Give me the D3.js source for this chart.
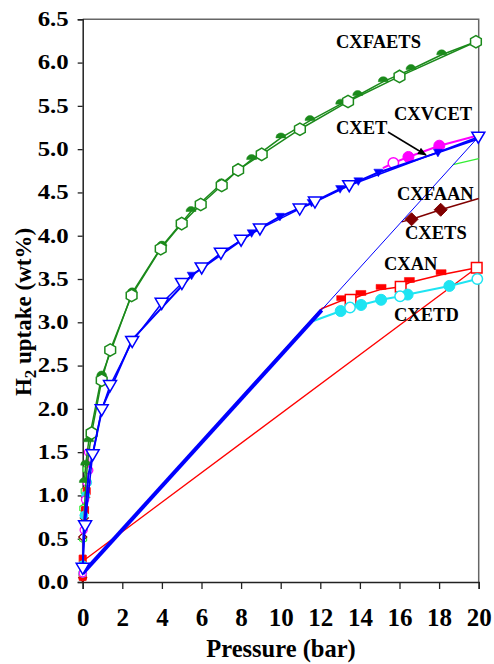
<!DOCTYPE html>
<html>
<head>
<meta charset="utf-8">
<script src="https://cdn.jsdelivr.net/npm/d3@7"></script>
<style>
  body { margin: 0; background: #fff; }
  svg text { font-family: "Liberation Serif", "Times New Roman", serif; font-weight: bold; }
</style>
</head>
<body>
<div id="chart"></div>
<script>
// axis ticks
var xTicks = [0, 2, 4, 6, 8, 10, 12, 14, 16, 18, 20];
var yTicks = [0, 0.5, 1, 1.5, 2, 2.5, 3, 3.5, 4, 4.5, 5, 5.5, 6, 6.5];

// CXFAETS (green) - open hexagons / filled desorption
var faetsAds = [[0, 0.08], [0.05, 0.55], [0.12, 1.0], [0.25, 1.4], [0.45, 1.72], [0.96, 2.33], [1.39, 2.68], [2.47, 3.31], [3.94, 3.85], [5.0, 4.14], [5.96, 4.36], [7.02, 4.58], [7.85, 4.76], [9.04, 4.94], [10.97, 5.23], [13.4, 5.55], [16.0, 5.84], [19.86, 6.24]];
var faetsDes = [[19.86, 6.24], [18.13, 6.09], [16.58, 5.92], [15.18, 5.78], [13.89, 5.62], [13.03, 5.52], [11.48, 5.33], [10.01, 5.13], [8.53, 4.88], [7.0, 4.6], [5.47, 4.28], [4.0, 3.88], [2.5, 3.34], [0.96, 2.38], [0.3, 1.62], [0.15, 1.35], [0.08, 1.15]];

// CXET (blue) - open triangles / filled desorption
var etAds = [[0, 0.1], [0, 0.16], [0.12, 0.65], [0.5, 1.47], [0.96, 1.99], [1.38, 2.27], [2.5, 2.78], [3.99, 3.22], [5.01, 3.45], [6.01, 3.63], [6.98, 3.8], [8.0, 3.95], [8.95, 4.08], [10.96, 4.31], [11.73, 4.39], [13.46, 4.58], [19.98, 5.14]];
var etDes = [[19.98, 5.12], [17.94, 4.96], [14.93, 4.73], [13.92, 4.63], [13.0, 4.54], [11.56, 4.38], [9.96, 4.22], [8.53, 4.03], [5.5, 3.54], [2.5, 2.8], [1.0, 2.02], [0.3, 1.25], [0.05, 0.6], [0, 0.1]];
var etReturn = [[0, 0.1], [19.98, 5.14]];
var etJump = [[0, 0.1], [12.07, 3.14]];

// CXVCET (magenta)
var vcetLow = [[0, 0.1], [0.05, 0.6], [0.12, 0.95], [0.2, 1.15], [0.33, 1.29], [0.27, 1.5]];
var vcetHigh = [[15.16, 4.78], [15.69, 4.84], [16.45, 4.91], [18.01, 5.04], [20, 5.16]];

// CXFAAN (light green)
var faanLow = [[0, 0.1], [0.02, 0.5], [0.03, 0.85], [0.1, 1.05], [0.2, 1.3]];
var faanHigh = [[18.7, 4.82], [20, 4.89]];

// CXETS (dark red) - filled diamonds
var etsLow = [[0, 0.05], [0, 0.52], [0.08, 0.74], [0.15, 0.98]];
var etsHigh = [[16.1, 4.16], [16.61, 4.19], [18.08, 4.3], [20, 4.43]];

// CXAN (red) - squares
var anLow = [[0, 0.06], [0, 0.27], [0.12, 0.83], [0.2, 1.05]];
var anOpen = [[13.53, 3.26], [16.06, 3.41], [19.9, 3.63]];
var anFilled = [[13.08, 3.25], [14.05, 3.31], [15.07, 3.38], [16.5, 3.46], [18.1, 3.55]];
var anLine = [[0, 0.1], [12.08, 3.16], [13.08, 3.25], [13.53, 3.26], [14.05, 3.31], [15.07, 3.38], [16.06, 3.41], [16.5, 3.46], [18.1, 3.55], [19.9, 3.63]];
var anReturn = [[0, 0.24], [19.9, 3.63]];

// CXETD (cyan) - circles
var etdLow = [[0, 0.1], [0, 0.2], [0.06, 0.77], [0.15, 1.0], [0.25, 1.15]];
var etdOpen = [[13.5, 3.17], [16.03, 3.3], [19.93, 3.5]];
var etdFilled = [[13.03, 3.13], [14.06, 3.2], [15.07, 3.26], [16.41, 3.32], [18.52, 3.42]];
var etdLine = [[0, 0.1], [11.48, 3.0], [13.03, 3.13], [13.5, 3.17], [14.06, 3.2], [15.07, 3.26], [16.03, 3.3], [16.41, 3.32], [18.52, 3.42], [19.93, 3.5]];

var labels = [
  { text: "CXFAETS", x: 336, y: 48 },
  { text: "CXVCET", x: 394, y: 120 },
  { text: "CXET", x: 336, y: 134 },
  { text: "CXFAAN", x: 397, y: 200 },
  { text: "CXETS", x: 405, y: 239 },
  { text: "CXAN", x: 384, y: 270 },
  { text: "CXETD", x: 394, y: 321 }
];

var width = 494, height = 664;
var svg = d3.select("#chart").append("svg").attr("width", width).attr("height", height);

var x = d3.scaleLinear().domain([0, 20]).range([82.7, 478.7]);
var y = d3.scaleLinear().domain([0, 6.5]).range([582, 19.3]);

var line = d3.line().x(function (d) { return x(d[0]); }).y(function (d) { return y(d[1]); });

// frame (top / right)
svg.append("path")
  .attr("d", "M" + x(0) + "," + y(6.5) + "H" + x(20) + "V" + y(0))
  .attr("fill", "none").attr("stroke", "#666").attr("stroke-width", 1.5);

// axes
var yAxis = svg.append("g").attr("transform", "translate(" + x(0) + ",0)")
  .call(d3.axisLeft(y).tickValues(yTicks).tickFormat(d3.format(".1f")).tickSize(5).tickPadding(9));
var xAxis = svg.append("g").attr("transform", "translate(0," + y(0) + ")")
  .call(d3.axisBottom(x).tickValues(xTicks).tickSize(7).tickPadding(19));
[xAxis, yAxis].forEach(function (a) {
  a.select(".domain").attr("stroke", "#222").attr("stroke-width", 1.5);
  a.selectAll(".tick line").attr("stroke", "#222").attr("stroke-width", 1.3);
  a.selectAll("text").attr("fill", "#000").style("font-family", "Liberation Serif, serif").style("font-weight", "bold");
});
yAxis.selectAll("text").style("font-size", "20px").attr("textLength", 31).attr("lengthAdjust", "spacingAndGlyphs");
xAxis.selectAll("text").style("font-size", "25px");

// shapes
function hexPath(r) {
  var p = [];
  for (var i = 0; i < 6; i++) {
    var a = Math.PI / 6 + i * Math.PI / 3;
    p.push([r * Math.cos(a), r * Math.sin(a)]);
  }
  return "M" + p.join("L") + "Z";
}
function triDown(s) { return "M" + (-s) + "," + (-s * 0.75) + "L" + s + "," + (-s * 0.75) + "L0," + (s * 0.95) + "Z"; }
function halfDisc(r) { return "M" + (-r) + ",0A" + r + "," + r + " 0 0,1 " + r + ",0Z"; }
function halfSquare(s) { return "M" + (-s) + ",0V" + (-s) + "H" + s + "V0Z"; }
function diamond(s) { return "M0," + (-s) + "L" + s + ",0L0," + s + "L" + (-s) + ",0Z"; }
function square(s) { return "M" + (-s) + "," + (-s) + "H" + s + "V" + s + "H" + (-s) + "Z"; }

function drawLine(data, color, w) {
  svg.append("path").datum(data).attr("d", line)
    .attr("fill", "none").attr("stroke", color).attr("stroke-width", w).attr("stroke-linejoin", "round");
}
function drawMarks(data, d, fill, stroke, sw) {
  svg.append("g").selectAll("path").data(data).enter().append("path")
    .attr("d", d)
    .attr("transform", function (p) { return "translate(" + x(p[0]) + "," + y(p[1]) + ")"; })
    .attr("fill", fill).attr("stroke", stroke).attr("stroke-width", sw || 0);
}

var cGreen = "#1b8a1b", cLime = "#33ee33", cBlue = "#0000ff", cMag = "#ff00ff",
    cBrown = "#800000", cRed = "#ff0000", cCyan = "#1ee4f2";

// red return line (thin)
drawLine(anReturn, cRed, 1.3);

// light green
drawLine(faanLow, cLime, 1.5);
drawLine(faanHigh, cLime, 1.3);
drawMarks(faanLow, hexPath(4), "#fff", cLime, 1.2);

// dark red
drawLine(etsLow, cBrown, 1.5);
drawLine(etsHigh, cBrown, 1.5);
drawMarks(etsLow, diamond(4), "#fff", cBrown, 1.2);
drawMarks(etsHigh.slice(1, 3), diamond(6.5), cBrown, cBrown, 1);

// red
drawLine(anLow, cRed, 1.5);
drawLine(anLine, cRed, 1.5);
drawMarks(anLow, square(3.5), cRed, cRed, 1);
drawMarks(anFilled, halfSquare(5), cRed, cRed, 0.5);
drawMarks(anOpen, square(5.3), "#fff", cRed, 1.5);

// cyan
drawLine(etdLow, cCyan, 1.5);
drawLine(etdLine, cCyan, 2);
drawMarks(etdLow, d3.symbol(d3.symbolCircle, 50), cCyan, cCyan, 1);
drawMarks(etdFilled, d3.symbol(d3.symbolCircle, 95), cCyan, cCyan, 1);
drawMarks(etdOpen, d3.symbol(d3.symbolCircle, 85), "#fff", cCyan, 1.5);

// magenta
drawLine(vcetLow, cMag, 1.5);
drawLine(vcetHigh, cMag, 2);
drawMarks(vcetLow, d3.symbol(d3.symbolCircle, 40), "#fff", cMag, 1.3);
drawMarks(vcetHigh.slice(2, 4), d3.symbol(d3.symbolCircle, 95), cMag, cMag, 1);
drawMarks(vcetHigh.slice(1, 2), d3.symbol(d3.symbolCircle, 85), "#fff", cMag, 1.5);

// green
drawLine(faetsDes, cGreen, 1.5);
drawLine(faetsAds, cGreen, 1.5);
drawMarks(faetsDes.slice(1), halfDisc(5), cGreen, cGreen, 0.5);
drawMarks(faetsAds.slice(4), hexPath(6.2), "#fff", cGreen, 1.5);

// blue
drawLine(etReturn, cBlue, 1);
drawLine(etJump, cBlue, 4);
drawLine(etDes, cBlue, 2);
drawLine(etAds, cBlue, 1.5);
drawMarks(etDes.slice(1, 10), triDown(4.5), cBlue, cBlue, 0.5);
drawMarks(etAds.slice(1), triDown(6.5), "#fff", cBlue, 1.5);

// labels
svg.append("g").selectAll("text").data(labels).enter().append("text")
  .attr("x", function (d) { return d.x; }).attr("y", function (d) { return d.y; })
  .style("font-size", "18.5px").attr("fill", "#000")
  .text(function (d) { return d.text; });

// arrow CXET
svg.append("defs").append("marker").attr("id", "arr").attr("viewBox", "0 0 10 10")
  .attr("refX", 9).attr("refY", 5).attr("markerWidth", 9).attr("markerHeight", 9)
  .attr("orient", "auto").attr("markerUnits", "userSpaceOnUse")
  .append("path").attr("d", "M0,1L10,5L0,9Z").attr("fill", "#000");
svg.append("line").attr("x1", 388).attr("y1", 132).attr("x2", 426).attr("y2", 155)
  .attr("stroke", "#000").attr("stroke-width", 1.5).attr("marker-end", "url(#arr)");

// axis titles
svg.append("text").attr("x", 281).attr("y", 657).attr("text-anchor", "middle")
  .style("font-size", "24.5px").text("Pressure (bar)");
var yt = svg.append("text").attr("transform", "translate(31,312) rotate(-90)")
  .attr("text-anchor", "middle").style("font-size", "23px");
yt.append("tspan").text("H");
yt.append("tspan").attr("dy", 5).style("font-size", "17px").text("2");
yt.append("tspan").attr("dy", -5).text(" uptake (wt%)");
</script>
</body>
</html>
